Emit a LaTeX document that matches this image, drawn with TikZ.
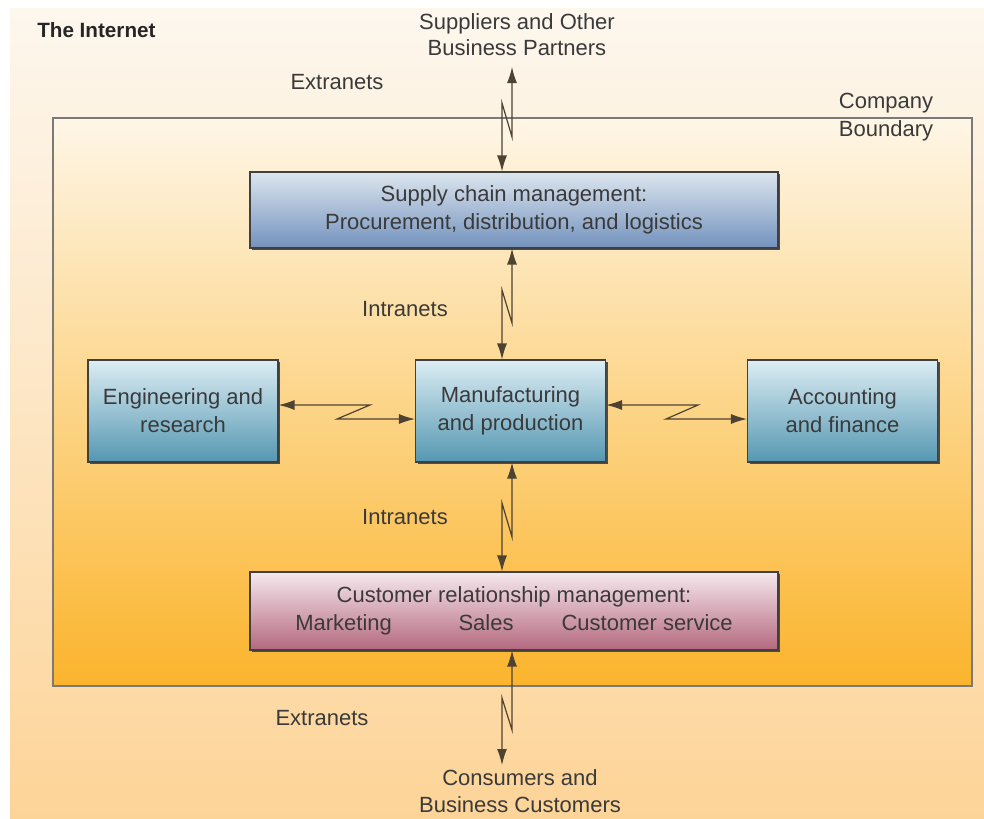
\documentclass[tikz,border=0pt]{standalone}
\usepackage{fontspec}
\setmainfont{Liberation Sans}
\usetikzlibrary{arrows.meta,calc,shadows}
\definecolor{bgtop}{HTML}{FDF7EE}
\definecolor{bgbot}{HTML}{FDD498}
\definecolor{ctop}{HTML}{FEF6E6}
\definecolor{cmid}{HTML}{FDD88C}
\definecolor{cbot}{HTML}{FBB42C}
\definecolor{bluetop}{HTML}{DCEDF4}
\definecolor{bluebot}{HTML}{5597B1}
\definecolor{sctop}{HTML}{DCE5EF}
\definecolor{scbot}{HTML}{7392BD}
\definecolor{crmtop}{HTML}{F6E8EE}
\definecolor{crmbot}{HTML}{B4687E}
\definecolor{txt}{HTML}{3A3A3A}
\definecolor{linkc}{HTML}{4E4232}
\definecolor{bound}{HTML}{7A7A7A}
\begin{document}
\begin{tikzpicture}[x=0.75pt,y=-0.75pt,
  lbl/.style={text=txt,font=\fontsize{16.5}{20}\selectfont,align=center,inner sep=0pt},
  box/.style={draw=black!75,line width=0.8pt,text=txt,align=center,
    font=\fontsize{16.5}{21}\selectfont,
    drop shadow={shadow xshift=1.8pt,shadow yshift=-1.8pt,opacity=1,fill=black!70}},
  bluebox/.style={box,top color=bluetop,bottom color=bluebot,
    minimum width=142.5pt,minimum height=76.5pt},
  widebox/.style={box,minimum width=396pt,minimum height=57pt},
  link/.style={draw=linkc,line width=0.9pt,
    {Latex[length=12pt,width=7.5pt]}-{Latex[length=12pt,width=7.5pt]}}
]
\useasboundingbox (0,0) rectangle (984,818);
\fill[white] (0,0) rectangle (984,818);
\shade[top color=bgtop,bottom color=bgbot] (10,8) rectangle (984,818);
\shade[top color=ctop,middle color=cmid,bottom color=cbot] (53,118) rectangle (972,686);
\draw[bound,line width=1.5pt] (53,118) rectangle (972,686);

% labels
\node[lbl,anchor=west,text=black!85,font=\fontsize{15.5}{19}\selectfont\bfseries] (inet) at (37,30) {The Internet};
\node[lbl] (sup) at (517,35) {Suppliers and Other\\[-0.5pt]Business Partners};
\node[lbl] (ext1) at (337,82) {Extranets};
\node[lbl] (cb) at (886,117) {Company\\[1pt]Boundary};
\node[lbl] (int1) at (405,309) {Intranets};
\node[lbl] (int2) at (405,517) {Intranets};
\node[lbl] (ext2) at (322,718) {Extranets};
\node[lbl] (cust) at (520,791) {Consumers and\\[0pt]Business Customers};

% boxes
\node[widebox,top color=sctop,bottom color=scbot] (sc) at (514,210)
  {Supply chain management:\\Procurement, distribution, and logistics};
\node[bluebox] (eng) at (183,411) {Engineering and\\research};
\node[bluebox] (mf) at (510.5,411) {Manufacturing\\and production};
\node[bluebox] (acc) at (842.5,411) {Accounting\\and finance};
\node[widebox,top color=crmtop,bottom color=crmbot,minimum height=58.5pt] (crm) at (514,611)
  {Customer relationship management:\\Marketing\hspace{50pt}Sales\hspace{36pt}Customer service};

% helper coordinates
\coordinate (xu) at (512,0);
\coordinate (xl) at (502,0);
\coordinate (yu) at (0,405);
\coordinate (yl) at (0,419);
\coordinate (ts) at (512,67);
\coordinate (bs) at (502,765);

% connectors
\draw[link] (ts) -- (512,137) -- (502,103) -- (sc.north -| xl);
\draw[link] (sc.south -| xu) -- (512,323) -- (502,290) -- (mf.north -| xl);
\draw[link] (mf.south -| xu) -- (512,537) -- (502,503) -- (crm.north -| xl);
\draw[link] (crm.south -| xu) -- (512,730) -- (502,698) -- (bs);
\draw[link] (eng.east |- yu) -- (370,405) -- (337,419) -- (mf.west |- yl);
\draw[link] (mf.east |- yu) -- (698,405) -- (666,419) -- (acc.west |- yl);
\end{tikzpicture}
\end{document}
